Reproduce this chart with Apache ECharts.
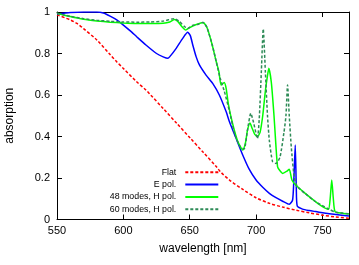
<!DOCTYPE html>
<html>
<head>
<meta charset="utf-8">
<script src="https://cdn.jsdelivr.net/npm/echarts@6/dist/echarts.min.js"></script>
<style>
html,body{margin:0;padding:0;background:#fff;}
#chart{width:359px;height:265px;}
</style>
</head>
<body>
<div id="chart"></div>
<script>
const xTicks = [550, 600, 650, 700, 750];
const yTicks = [0, 0.2, 0.4, 0.6, 0.8, 1];
const seriesNames = ["Flat", "E pol.", "48 modes, H pol.", "60 modes, H pol."];

const flatX = [550,560,565,570,580,590,595,600,610,617,620,630,640,650,660,670,673.6,680,690,700,710,720,730,740,750,760,770];
const flatY = [0.986,0.962,0.945,0.92,0.865,0.795,0.76,0.728,0.664,0.624,0.604,0.535,0.465,0.395,0.325,0.255,0.227,0.19,0.145,0.105,0.078,0.06,0.045,0.032,0.021,0.012,0.006];

const eX = [550,560,570,580,585,590,595,600,605,610,617,625,630,633.5,635,639.8,644.7,648.5,650.5,652.3,654.8,657.3,662.3,667.3,672.3,677.4,680,685,690,695,700,705,710,715,720,725,727.5,728.5,729.5,730.3,731,735,740,745,755,770];
const eY = [0.99,0.997,1.0,1.0,0.995,0.98,0.962,0.937,0.91,0.881,0.841,0.80,0.784,0.777,0.785,0.825,0.873,0.902,0.885,0.841,0.785,0.745,0.696,0.656,0.60,0.52,0.47,0.39,0.31,0.24,0.19,0.155,0.126,0.105,0.088,0.073,0.094,0.2,0.359,0.15,0.065,0.05,0.043,0.038,0.028,0.017];

const h48X = [550,560,570,580,590,600,610,620,630,635,638.5,641,644,647,650,655,660,663,667,670,672,673.6,676,677.5,679,682,686,690,692,693.5,695.4,697,699,701,703,705,707,708.5,709.6,711.5,713.5,715,716.2,718,720,723,725,727,730,737,745,750,754.5,755.8,757,758.2,759.5,765,770];
const h48Y = [0.994,0.978,0.965,0.957,0.951,0.947,0.945,0.945,0.946,0.952,0.964,0.955,0.93,0.913,0.925,0.94,0.95,0.925,0.84,0.76,0.712,0.648,0.66,0.63,0.56,0.47,0.38,0.335,0.37,0.43,0.465,0.44,0.41,0.40,0.42,0.50,0.62,0.69,0.729,0.66,0.50,0.35,0.254,0.235,0.222,0.232,0.242,0.19,0.165,0.126,0.085,0.062,0.049,0.1,0.19,0.1,0.038,0.03,0.026];

const h60X = [550,560,570,580,590,600,610,620,630,638,642,646,648.5,652,656,660,663,667,670,673,676,680,684,688,691,693.5,696,698,701,702.5,704,705.4,707,708.6,710,712.4,715,718,721,722.5,723.7,725,726.5,728.7,731,737,745,755,760,770];
const h60Y = [0.994,0.979,0.968,0.96,0.955,0.952,0.951,0.952,0.956,0.968,0.955,0.93,0.921,0.935,0.94,0.95,0.925,0.84,0.76,0.68,0.62,0.52,0.41,0.35,0.34,0.43,0.512,0.47,0.39,0.50,0.72,0.918,0.71,0.50,0.38,0.279,0.27,0.30,0.42,0.50,0.648,0.50,0.35,0.206,0.16,0.125,0.085,0.05,0.035,0.028];

function zip(xs, ys) { return xs.map((x, i) => [x, ys[i]]); }

const FONT = "'Liberation Sans', Arial, Helvetica, sans-serif";
const chart = echarts.init(document.getElementById('chart'), null, {renderer: 'canvas'});

const baseX = {
  type: 'value', min: 550, max: 770, interval: 50,
  axisLine: {show: true, onZero: false, lineStyle: {color: '#000', width: 1}},
  axisTick: {show: true, inside: true, length: 5, lineStyle: {color: '#000'}},
  splitLine: {show: false}
};
const baseY = {
  type: 'value', min: 0, max: 1, interval: 0.2,
  axisLine: {show: true, onZero: false, lineStyle: {color: '#000', width: 1}},
  axisTick: {show: true, inside: true, length: 5, lineStyle: {color: '#000'}},
  splitLine: {show: false}
};

chart.setOption({
  animation: false,
  backgroundColor: '#fff',
  grid: {left: 57, right: 10, top: 12, bottom: 45.5, containLabel: false, outerBoundsMode: 'none'},
  legend: {
    orient: 'vertical', align: 'right',
    right: 139.7, top: 167.3, padding: 0,
    itemWidth: 33, itemHeight: 10, itemGap: 2.3,
    itemStyle: {opacity: 0},
    textStyle: {fontFamily: FONT, fontSize: 8.8, color: '#000', lineHeight: 10, padding: [0, 4, 0, 0]},
    data: seriesNames
  },
  xAxis: [
    Object.assign({}, baseX, {
      position: 'bottom',
      axisLabel: {show: true, showMaxLabel: false, margin: 6, color: '#000', fontFamily: FONT, fontSize: 11,
        formatter: v => xTicks.includes(v) ? String(v) : ''},
      name: 'wavelength [nm]', nameLocation: 'middle', nameGap: 23,
      nameTextStyle: {fontFamily: FONT, fontSize: 12, color: '#000'}
    }),
    Object.assign({}, baseX, {position: 'top', axisLabel: {show: false}})
  ],
  yAxis: [
    Object.assign({}, baseY, {
      position: 'left',
      axisLabel: {show: true, margin: 7, color: '#000', fontFamily: FONT, fontSize: 11,
        formatter: v => { const t = yTicks.find(k => Math.abs(k - v) < 1e-9); return t === undefined ? '' : String(t); }},
      name: 'absorption', nameLocation: 'middle', nameGap: 41,
      nameTextStyle: {fontFamily: FONT, fontSize: 12, color: '#000'}
    }),
    Object.assign({}, baseY, {position: 'right', axisLabel: {show: false}})
  ],
  series: [
    {name: seriesNames[0], type: 'line', xAxisIndex: 0, yAxisIndex: 0, data: zip(flatX, flatY),
      showSymbol: false, symbol: 'none', smooth: 0.3, color: '#ff0000',
      lineStyle: {color: '#ff0000', width: 1.5, type: [3, 2]}},
    {name: seriesNames[1], type: 'line', xAxisIndex: 0, yAxisIndex: 0, data: zip(eX, eY),
      showSymbol: false, symbol: 'none', smooth: 0.2, color: '#0000ff',
      lineStyle: {color: '#0000ff', width: 1.5}},
    {name: seriesNames[2], type: 'line', xAxisIndex: 0, yAxisIndex: 0, data: zip(h48X, h48Y),
      showSymbol: false, symbol: 'none', smooth: 0.2, color: '#00ff00',
      lineStyle: {color: '#00ff00', width: 1.5}},
    {name: seriesNames[3], type: 'line', xAxisIndex: 0, yAxisIndex: 0, data: zip(h60X, h60Y),
      showSymbol: false, symbol: 'none', smooth: 0.2, color: '#2e8b57',
      lineStyle: {color: '#2e8b57', width: 1.5, type: [3, 2]}}
  ]
});
</script>
</body>
</html>
